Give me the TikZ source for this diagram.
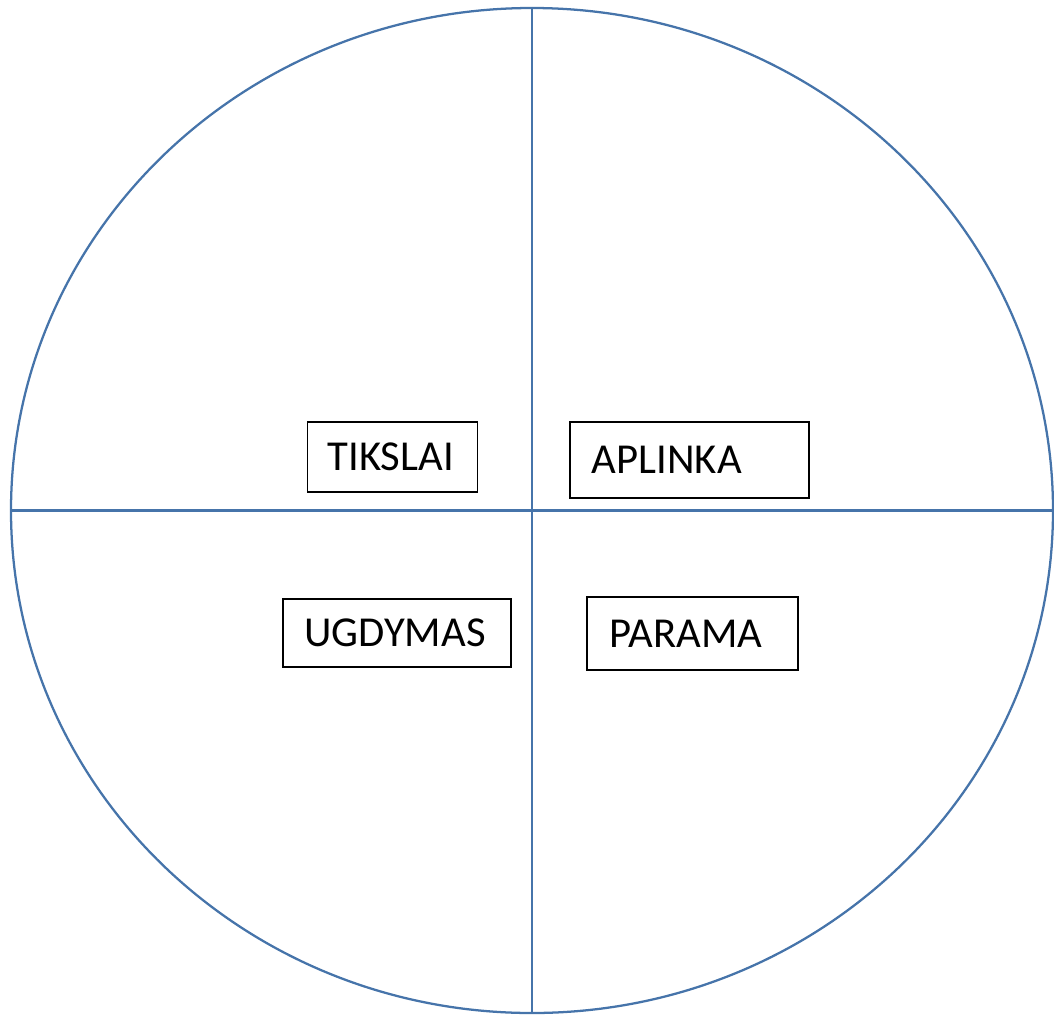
\documentclass[tikz,border=0pt]{standalone}
\usepackage{fontspec}
\setmainfont{Carlito}
\usetikzlibrary{shapes.geometric}
\definecolor{ringblue}{RGB}{70,116,170}
\begin{document}
\begin{tikzpicture}[x=0.75pt,y=-0.75pt,
  ring/.style={draw=ringblue,line width=1.7pt},
  labelbox/.style={draw=black,line width=1.3pt,align=left,inner ysep=0pt,
    font=\fontsize{32}{38}\selectfont}]
\useasboundingbox (0,0) rectangle (1054,1015);
\node[ring,ellipse,inner sep=0pt,minimum width=781.5pt,minimum height=753.75pt] (c) at (532,510.5) {};
\draw[ring] (c.north) -- (c.south);
\draw[ring] (c.west) -- (c.east);
\node[labelbox,inner xsep=15pt,text width=97.5pt,minimum height=52.5pt] (tik) at (392.6,457) {TIKSLAI};
\node[labelbox,inner xsep=16.5pt,text width=146pt,minimum height=57pt] (apl) at (689.3,460) {APLINKA};
\node[labelbox,inner xsep=16pt,text width=138.8pt,minimum height=50.8pt] (ugd) at (396.9,632.8) {UGDYMAS};
\node[labelbox,inner xsep=17.25pt,text width=124pt,minimum height=54.75pt] (par) at (692.3,633.5) {PARAMA};
\end{tikzpicture}
\end{document}
